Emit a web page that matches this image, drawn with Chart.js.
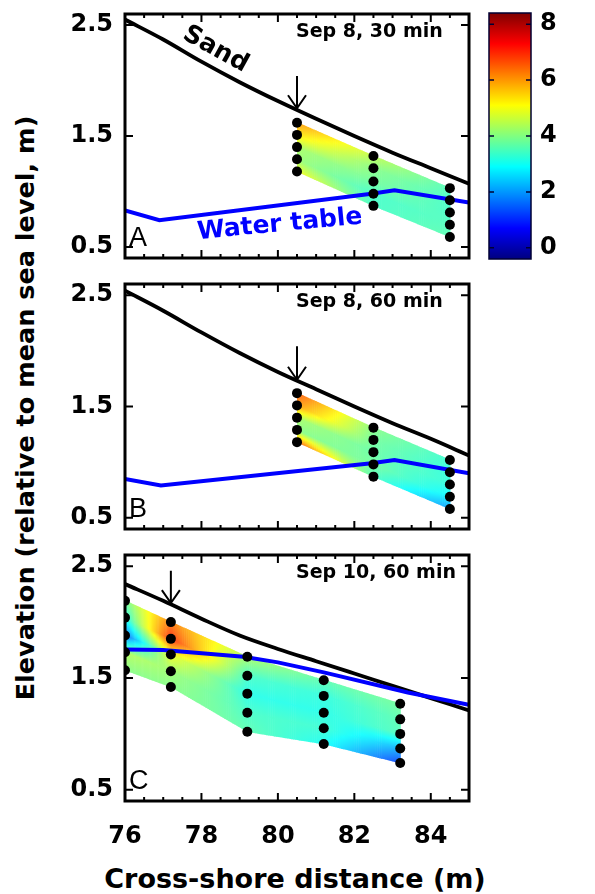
<!DOCTYPE html>
<html>
<head>
<meta charset="utf-8">
<script src="https://cdn.jsdelivr.net/npm/chart.js@4.4.1/dist/chart.umd.min.js"></script>
<style>
  html, body { margin: 0; padding: 0; background: #fff; }
  body { width: 595px; height: 894px; position: relative; overflow: hidden; }
  canvas { position: absolute; }
  .axtitle {
    position: absolute; transform: translate(-50%, -50%);
    font: bold 26px "DejaVu Sans"; white-space: nowrap; color: #000; line-height: 1;
  }
  #ytitle { left: 26px; top: 408px; font-size: 25.5px; transform: translate(-50%, -50%) rotate(-90deg); }
  #xtitle { left: 295px; top: 878px; font-size: 27px; }
</style>
</head>
<body>
<div id="ytitle" class="axtitle">Elevation (relative to mean sea level, m)</div>
<div id="xtitle" class="axtitle">Cross-shore distance (m)</div>
<canvas id="pA" width="480" height="270" style="left:0;top:0"></canvas>
<canvas id="pB" width="480" height="270" style="left:0;top:270px"></canvas>
<canvas id="pC" width="480" height="354" style="left:0;top:540px"></canvas>
<canvas id="cbar" width="125" height="270" style="left:470px;top:0"></canvas>
<script>
// ---- data ----
const xTickLabels = [76, 78, 80, 82, 84];
const yTickLabels = [0.5, 1.5, 2.5];
const cbTickLabels = [0, 2, 4, 6, 8];

// sand surface
const sandX = [76, 77, 78, 79, 80, 81, 82, 83, 84, 85];
const sandA = [2.55, 2.37, 2.17, 1.985, 1.815, 1.655, 1.50, 1.35, 1.21, 1.07];
const sandB = [2.54, 2.36, 2.165, 1.98, 1.81, 1.655, 1.50, 1.35, 1.21, 1.06];
const sandC = [2.34, 2.19, 2.03, 1.88, 1.76, 1.65, 1.54, 1.43, 1.32, 1.21];

// water table
const waterXA = [76, 76.9, 82.45, 83.05, 85];
const waterA = [0.83, 0.74, 0.98, 1.01, 0.90];
const waterXB = [76, 76.94, 82.45, 83.05, 85];
const waterB = [0.85, 0.79, 0.99, 1.02, 0.90];
const waterXC = [76, 77, 79.1, 80, 81.2, 83.4, 85];
const waterC = [1.755, 1.75, 1.69, 1.64, 1.55, 1.37, 1.26];

// sampling columns (cross-shore position) and sample elevations
const colsAB = [80.5, 82.5, 84.5];
const depthA = [[1.62, 1.51, 1.40, 1.29, 1.18], [1.32, 1.21, 1.09, 0.98, 0.87], [1.03, 0.92, 0.81, 0.70, 0.59]];
const depthB = [[1.62, 1.51, 1.40, 1.29, 1.18], [1.31, 1.20, 1.09, 0.98, 0.87], [1.02, 0.91, 0.80, 0.69, 0.58]];
const colsC = [76, 77.2, 79.2, 81.2, 83.2];
const depthC = [[2.19, 2.04, 1.88, 1.73, 1.57], [2.00, 1.85, 1.71, 1.56, 1.42], [1.69, 1.52, 1.36, 1.19, 1.02],
                [1.48, 1.34, 1.19, 1.05, 0.91], [1.27, 1.13, 1.00, 0.87, 0.74]];

// log(abundance) at each sample
const logA = [[6.0, 5.3, 4.3, 4.2, 5.0], [4.5, 4.0, 3.8, 3.4, 3.4], [3.5, 3.4, 3.4, 3.5, 3.6]];
const logB = [[6.6, 6.0, 4.3, 4.0, 6.5], [4.0, 3.8, 3.7, 3.8, 3.5], [3.3, 3.2, 3.2, 2.8, 2.0]];
const logC = [[3.8, 3.0, 1.5, 4.4, 4.0], [6.3, 7.0, 5.0, 4.2, 4.0], [4.3, 3.4, 3.1, 3.4, 3.6],
              [3.6, 3.2, 3.1, 3.3, 3.0], [3.8, 3.6, 3.5, 2.2, 1.2]];

// arrows: [x, start elevation, tip elevation]
const arrowA = [80.5, 2.04, 1.75];
const arrowB = [80.5, 2.04, 1.74];
const arrowC = [77.2, 2.46, 2.17];

const cbMin = -0.4, cbMax = 8.4;
const FONT = 'DejaVu Sans';

Chart.defaults.font.family = FONT;
Chart.defaults.color = '#000';

function lerp(a, b, t) { return a + (b - a) * t; }

// jet colour map; pale > 0 mixes in some white
function jet(v, pale) {
  const t = Math.min(1, Math.max(0, (v - cbMin) / (cbMax - cbMin)));
  const w = pale || 0;
  const c = k => Math.round(255 * (w + (1 - w) * Math.min(1, Math.max(0, 1.5 - Math.abs(4 * t - k)))));
  return 'rgb(' + c(3) + ',' + c(2) + ',' + c(1) + ')';
}

// keep tick labels from shrinking the plot area
function noOverflow(s) {
  s.paddingTop = 0; s.paddingBottom = 0; s.paddingLeft = 0; s.paddingRight = 0;
}

// colour fill between the sample columns
const abundanceFill = {
  id: 'abundanceFill',
  beforeDatasetsDraw(chart, args, o) {
    const {ctx, chartArea: a, scales: {x, y}} = chart;
    const steps = 40;
    ctx.save();
    ctx.beginPath();
    ctx.rect(a.left, a.top, a.width, a.height);
    ctx.clip();
    for (let i = 0; i < o.cols.length - 1; i++) {
      const x0 = x.getPixelForValue(o.cols[i]), x1 = x.getPixelForValue(o.cols[i + 1]);
      for (let j = 0; j < o.depths[i].length - 1; j++) {
        const a0 = y.getPixelForValue(o.depths[i][j]), b0 = y.getPixelForValue(o.depths[i][j + 1]);
        const a1 = y.getPixelForValue(o.depths[i + 1][j]), b1 = y.getPixelForValue(o.depths[i + 1][j + 1]);
        for (let s = 0; s < steps; s++) {
          const t0 = s / steps, t1 = (s + 1) / steps, tm = (t0 + t1) / 2;
          const xl = lerp(x0, x1, t0), xr = lerp(x0, x1, t1) + 0.6;
          const vTop = lerp(o.vals[i][j], o.vals[i + 1][j], tm);
          const vBot = lerp(o.vals[i][j + 1], o.vals[i + 1][j + 1], tm);
          const g = ctx.createLinearGradient(0, lerp(a0, a1, tm), 0, lerp(b0, b1, tm));
          for (let k = 0; k <= 4; k++) g.addColorStop(k / 4, jet(lerp(vTop, vBot, k / 4), 0.12));
          ctx.fillStyle = g;
          ctx.beginPath();
          ctx.moveTo(xl, lerp(a0, a1, t0) - 0.4);
          ctx.lineTo(xr, lerp(a0, a1, t1) - 0.4);
          ctx.lineTo(xr, lerp(b0, b1, t1) + 0.4);
          ctx.lineTo(xl, lerp(b0, b1, t0) + 0.4);
          ctx.closePath();
          ctx.fill();
        }
      }
    }
    ctx.restore();
  }
};

// frame, inward ticks, arrow and labels
const panelDecor = {
  id: 'panelDecor',
  afterDatasetsDraw(chart, args, o) {
    const {ctx, chartArea: a, scales: {x, y}} = chart;
    ctx.save();
    ctx.strokeStyle = '#000';
    ctx.fillStyle = '#000';

    // arrow
    const ax = x.getPixelForValue(o.arrow[0]);
    const ay0 = y.getPixelForValue(o.arrow[1]), ay1 = y.getPixelForValue(o.arrow[2]);
    ctx.lineWidth = 2;
    ctx.beginPath();
    ctx.moveTo(ax, ay0); ctx.lineTo(ax, ay1);
    ctx.moveTo(ax - 9, ay1 - 13); ctx.lineTo(ax, ay1); ctx.lineTo(ax + 9, ay1 - 13);
    ctx.stroke();

    // frame
    ctx.lineWidth = 3;
    ctx.strokeRect(a.left, a.top, a.width, a.height);

    // ticks
    ctx.lineWidth = 2;
    ctx.beginPath();
    for (let v = 76.5; v < 85; v += 0.5) {
      const px = x.getPixelForValue(v);
      const len = (v % 2 === 0) ? 8 : 4;
      ctx.moveTo(px, a.bottom); ctx.lineTo(px, a.bottom - len);
      ctx.moveTo(px, a.top); ctx.lineTo(px, a.top + len);
    }
    yTickLabels.forEach(v => {
      const py = y.getPixelForValue(v);
      ctx.moveTo(a.left, py); ctx.lineTo(a.left + 8, py);
      ctx.moveTo(a.right, py); ctx.lineTo(a.right - 8, py);
    });
    ctx.stroke();

    // title and panel letter
    ctx.textBaseline = 'middle';
    ctx.textAlign = 'left';
    ctx.font = 'bold 19px "' + FONT + '"';
    ctx.fillText(o.title, a.left + 171, a.top + 18);
    ctx.font = '27px "Liberation Sans"';
    ctx.fillText(o.letter, a.left + 4, a.bottom - 19);

    // curve labels
    (o.labels || []).forEach(l => {
      ctx.save();
      ctx.translate(x.getPixelForValue(l.x), y.getPixelForValue(l.y));
      ctx.rotate(l.angle * Math.PI / 180);
      ctx.font = 'bold 25px "' + FONT + '"';
      ctx.fillStyle = l.color;
      ctx.textAlign = 'center';
      ctx.fillText(l.text, 0, 0);
      ctx.restore();
    });
    ctx.restore();
  }
};

function makePanel(id, p) {
  const dots = [];
  p.cols.forEach((cx, i) => p.depths[i].forEach(d => dots.push({x: cx, y: d})));
  const showX = !!p.showX;
  new Chart(document.getElementById(id), {
    type: 'scatter',
    data: {
      datasets: [
        {
          data: dots, order: 0, showLine: false,
          pointRadius: 5, pointBackgroundColor: '#000', pointBorderWidth: 0
        },
        {
          data: p.waterX.map((v, i) => ({x: v, y: p.water[i]})), order: 1, showLine: true,
          borderColor: '#0000ff', borderWidth: 4, pointRadius: 0
        },
        {
          data: sandX.map((v, i) => ({x: v, y: p.sand[i]})), order: 2, showLine: true,
          borderColor: '#000', borderWidth: 3.8, pointRadius: 0, cubicInterpolationMode: 'monotone'
        }
      ]
    },
    options: {
      responsive: false,
      animation: false,
      events: [],
      layout: {padding: {left: 0, right: 11, top: p.padTop, bottom: p.padBottom}},
      plugins: {
        legend: {display: false},
        tooltip: {enabled: false},
        abundanceFill: {cols: p.cols, depths: p.depths, vals: p.vals},
        panelDecor: {arrow: p.arrow, title: p.title, letter: p.letter, labels: p.labels}
      },
      scales: {
        x: {
          type: 'linear', min: 76, max: 85,
          display: showX,
          grid: {display: false, drawTicks: false}, border: {display: false},
          afterBuildTicks: s => { s.ticks = xTickLabels.map(v => ({value: v})); },
          afterFit: s => { noOverflow(s); if (showX) s.height = 93; },
          ticks: {font: {size: 24, weight: 'bold'}, padding: 21, maxRotation: 0}
        },
        y: {
          type: 'linear', min: 0.4, max: 2.6,
          grid: {display: false, drawTicks: false}, border: {display: false},
          afterBuildTicks: s => { s.ticks = yTickLabels.map(v => ({value: v})); },
          afterFit: s => { noOverflow(s); s.width = 125; },
          ticks: {font: {size: 24, weight: 'bold'}, padding: 12, callback: v => v.toFixed(1)}
        }
      }
    },
    plugins: [abundanceFill, panelDecor]
  });
}

makePanel('pA', {
  sand: sandA, waterX: waterXA, water: waterA, cols: colsAB, depths: depthA, vals: logA,
  arrow: arrowA, title: 'Sep 8, 30 min', letter: 'A', padTop: 14, padBottom: 12,
  labels: [
    {text: 'Sand', x: 78.37, y: 2.28, angle: 29, color: '#000'},
    {text: 'Water table', x: 80.05, y: 0.70, angle: -5.5, color: '#0000ff'}
  ]
});
makePanel('pB', {
  sand: sandB, waterX: waterXB, water: waterB, cols: colsAB, depths: depthB, vals: logB,
  arrow: arrowB, title: 'Sep 8, 60 min', letter: 'B', padTop: 14, padBottom: 11
});
makePanel('pC', {
  sand: sandC, waterX: waterXC, water: waterC, cols: colsC, depths: depthC, vals: logC,
  arrow: arrowC, title: 'Sep 10, 60 min', letter: 'C', padTop: 15, padBottom: 0, showX: true
});

// colour bar
const colorBar = {
  id: 'colorBar',
  beforeDatasetsDraw(chart) {
    const {ctx, chartArea: a, scales: {y}} = chart;
    ctx.save();
    const g = ctx.createLinearGradient(0, a.bottom, 0, a.top);
    for (let k = 0; k <= 40; k++) g.addColorStop(k / 40, jet(lerp(cbMin, cbMax, k / 40)));
    ctx.fillStyle = g;
    ctx.fillRect(a.left, a.top, a.width, a.height);
    ctx.strokeStyle = '#000033';
    ctx.lineWidth = 1.5;
    ctx.strokeRect(a.left, a.top, a.width, a.height);
    ctx.beginPath();
    cbTickLabels.forEach(v => {
      const py = y.getPixelForValue(v);
      ctx.moveTo(a.right, py); ctx.lineTo(a.right - 5, py);
      ctx.moveTo(a.left, py); ctx.lineTo(a.left + 5, py);
    });
    ctx.stroke();
    ctx.translate(589, (a.top + a.bottom) / 2);
    ctx.rotate(-Math.PI / 2);
    ctx.fillStyle = '#000';
    ctx.font = 'bold 26px "' + FONT + '"';
    ctx.textAlign = 'center';
    ctx.textBaseline = 'alphabetic';
    ctx.fillText('Log(abundance)', 0, 0);
    ctx.restore();
  }
};

new Chart(document.getElementById('cbar'), {
  type: 'scatter',
  data: {datasets: [{data: []}]},
  options: {
    responsive: false,
    animation: false,
    events: [],
    layout: {padding: {left: 19, right: 0, top: 13, bottom: 11}},
    plugins: {legend: {display: false}, tooltip: {enabled: false}},
    scales: {
      x: {display: false, min: 0, max: 1},
      y: {
        position: 'right', min: cbMin, max: cbMax,
        grid: {display: false, drawTicks: false}, border: {display: false},
        afterBuildTicks: s => { s.ticks = cbTickLabels.map(v => ({value: v})); },
        afterFit: s => { noOverflow(s); s.width = 64; },
        ticks: {font: {size: 24, weight: 'bold'}, padding: 9}
      }
    }
  },
  plugins: [colorBar]
});
</script>
</body>
</html>
